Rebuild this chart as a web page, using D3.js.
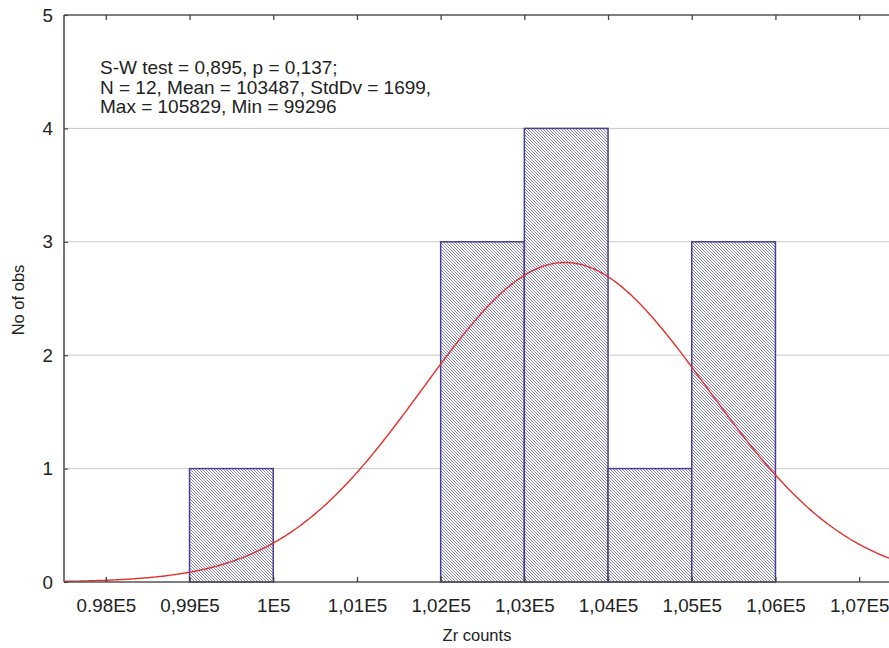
<!DOCTYPE html>
<html><head><meta charset="utf-8">
<script src="https://cdn.jsdelivr.net/npm/d3@7"></script>
<style>body{margin:0;background:#fff;} text{font-family:"Liberation Sans",Arial,sans-serif;fill:#222;}</style>
</head><body><svg id="c" width="889" height="648"></svg>
<script>
const binStarts = [99000, 100000, 101000, 102000, 103000, 104000, 105000];
const binCounts = [1, 0, 0, 3, 4, 1, 3];
const binWidth = 1000;
const xTickValues = [98000, 99000, 100000, 101000, 102000, 103000, 104000, 105000, 106000, 107000];
const xTickLabels = ["0.98E5", "0,99E5", "1E5", "1,01E5", "1,02E5", "1,03E5", "1,04E5", "1,05E5", "1,06E5", "1,07E5"];
const yTickValues = [0, 1, 2, 3, 4, 5];
const statsLines = ["S-W test = 0,895, p = 0,137;", "N = 12, Mean = 103487, StdDv = 1699,", "Max = 105829, Min = 99296"];
const nObs = 12, mean = 103487, sd = 1699;

const svg = d3.select("#c");
const L = 64, T = 15, B = 582, R = 901;
const FS = 18.8;
const x = d3.scaleLinear().domain([97500, 107500]).range([L, R]);
const y = d3.scaleLinear().domain([0, 5]).range([B, T]);

const defs = svg.append("defs");
const pat = defs.append("pattern").attr("id","hatch").attr("patternUnits","userSpaceOnUse")
  .attr("width",3).attr("height",3);
pat.append("rect").attr("width",3).attr("height",3).attr("fill","#fff");
pat.append("path").attr("d","M-1,-1 L4,4 M-1,2 L1,4 M2,-1 L4,1").attr("stroke","#5c5ca2").attr("stroke-width",0.75);
defs.append("clipPath").attr("id","clip").append("rect").attr("x",L).attr("y",T).attr("width",R-L).attr("height",B-T);

// grid
svg.append("g").selectAll("line").data([1,2,3,4]).join("line")
  .attr("x1",L).attr("x2",R).attr("y1",d=>y(d)).attr("y2",d=>y(d))
  .attr("stroke","#c9c9c9").attr("stroke-width",1);

// bars
svg.append("g").selectAll("rect").data(binStarts.map((s,i)=>({s,c:binCounts[i]})).filter(d=>d.c>0)).join("rect")
  .attr("x",d=>x(d.s)).attr("width",d=>x(d.s+binWidth)-x(d.s))
  .attr("y",d=>y(d.c)).attr("height",d=>y(0)-y(d.c))
  .attr("fill","url(#hatch)").attr("stroke","#4a3f8c").attr("stroke-width",1.5);

// normal curve
const pts = d3.range(97500, 107501, 25).map(v=>[v, nObs*binWidth*Math.exp(-0.5*((v-mean)/sd)**2)/(sd*Math.sqrt(2*Math.PI))]);
svg.append("path").datum(pts).attr("clip-path","url(#clip)")
  .attr("d", d3.line().x(d=>x(d[0])).y(d=>y(d[1])).curve(d3.curveBasis))
  .attr("fill","none").attr("stroke","#e3302c").attr("stroke-width",1.4);

// frame
const ax = svg.append("g").attr("stroke","#555").attr("stroke-width",1.6);
ax.append("line").attr("x1",L).attr("x2",R).attr("y1",B).attr("y2",B);
ax.append("line").attr("x1",L).attr("x2",R).attr("y1",T).attr("y2",T);
ax.append("line").attr("x1",L).attr("x2",L).attr("y1",T).attr("y2",B);
ax.append("line").attr("x1",R).attr("x2",R).attr("y1",T).attr("y2",B);

// x axis
const xAxis = d3.axisBottom(x).tickValues(xTickValues).tickSizeInner(-5).tickSizeOuter(0).tickPadding(17)
  .tickFormat((d,i)=>xTickLabels[i]);
const gx = svg.append("g").attr("transform",`translate(0,${B})`).call(xAxis);
gx.select(".domain").remove();
gx.selectAll(".tick line").attr("stroke","#444").attr("stroke-width",1.3);
gx.selectAll(".tick text").attr("font-size",FS).attr("fill","#222").attr("font-family","Liberation Sans, Arial, sans-serif");
// top ticks
const gxt = svg.append("g").attr("transform",`translate(0,${T})`).call(d3.axisTop(x).tickValues(xTickValues).tickSizeInner(-5).tickSizeOuter(0).tickFormat(""));
gxt.select(".domain").remove();
gxt.selectAll(".tick line").attr("stroke","#444").attr("stroke-width",1.3);

// y axis
const gy = svg.append("g").attr("transform",`translate(${L},0)`).call(d3.axisLeft(y).tickValues(yTickValues).tickSizeInner(-4).tickSizeOuter(0).tickPadding(11).tickFormat(d3.format("d")));
gy.select(".domain").remove();
gy.selectAll(".tick line").attr("stroke","#444").attr("stroke-width",1.2);
gy.selectAll(".tick text").attr("font-size",FS).attr("fill","#222").attr("font-family","Liberation Sans, Arial, sans-serif");

// labels
svg.append("text").attr("x",477).attr("y",641).attr("text-anchor","middle").attr("font-size",16.5).text("Zr counts");
svg.append("text").attr("transform","translate(24,300) rotate(-90)").attr("text-anchor","middle").attr("font-size",16.5).text("No of obs");

// stats
svg.append("g").selectAll("text").data(statsLines).join("text")
  .attr("x",100).attr("y",(d,i)=>74+i*19.5).attr("font-size",19).text(d=>d);
</script></body></html>
